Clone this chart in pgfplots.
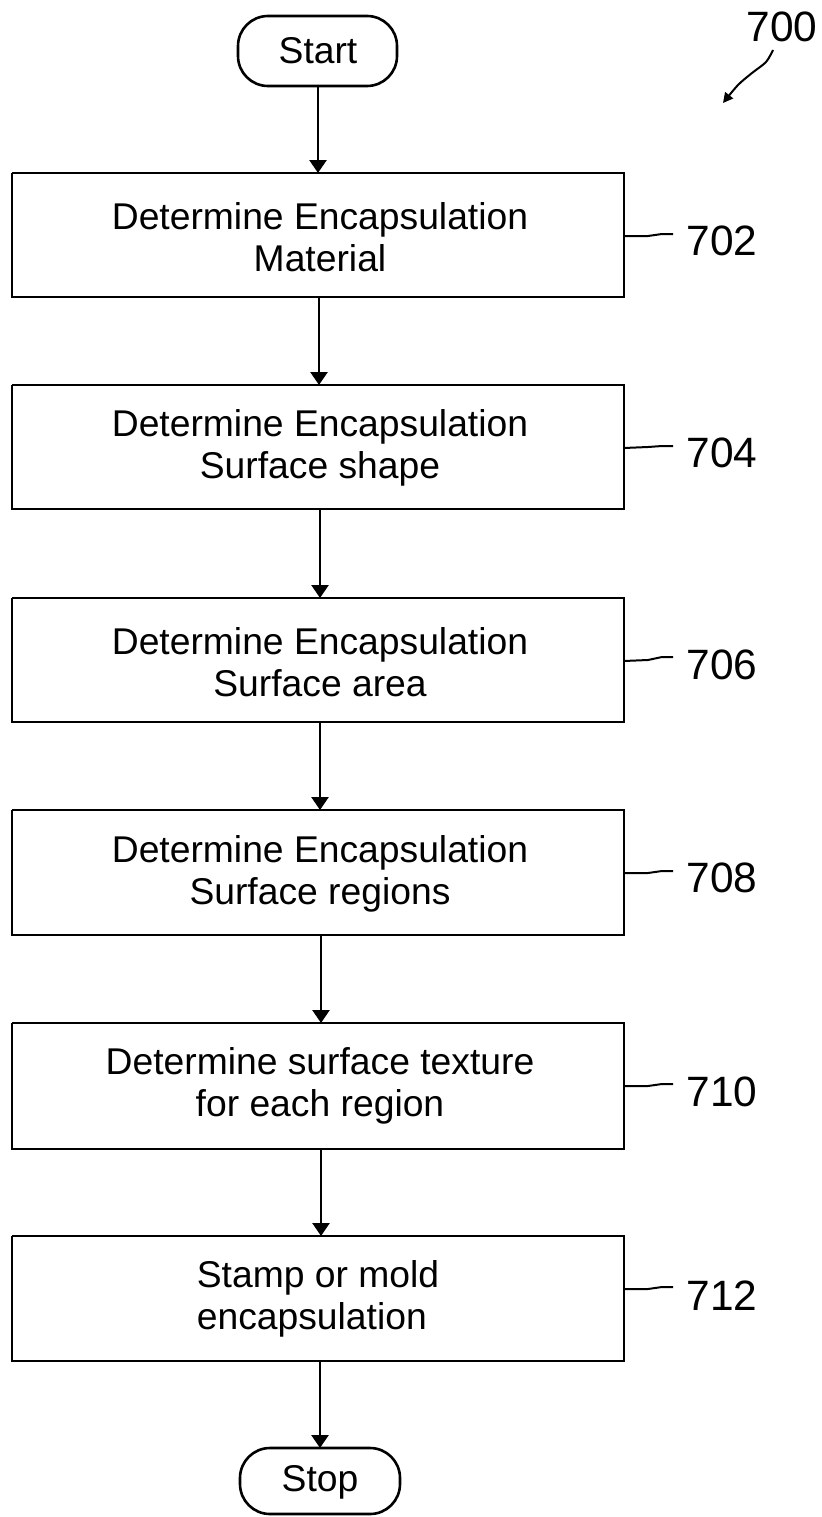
\documentclass[border=0pt]{standalone}
\usepackage{pgfplots}
\pgfplotsset{compat=1.18}
\usetikzlibrary{arrows.meta}
\usepackage{fontspec}
\setmainfont{Liberation Sans}
\begin{document}
\begin{tikzpicture}
\begin{axis}[
  scale only axis, width=411bp, height=758.5bp,
  xmin=0, xmax=822, ymin=0, ymax=1517, y dir=reverse,
  hide axis, clip=false,
  cycle list={{black,solid,mark=none}},
  every axis plot/.append style={black, solid, line width=1.3bp, mark=none},
]
% bounding frame (invisible)
\addplot[draw=none] coordinates {(0,0) (822,1517)};
% Start / Stop terminals
\addplot[rounded corners=15bp] coordinates {(318,16) (397,16) (397,86) (238,86) (238,16) (318,16)};
\addplot[rounded corners=15bp] coordinates {(320,1448) (400,1448) (400,1514) (240,1514) (240,1448) (320,1448)};
% process boxes
\addplot[] coordinates {(12,173) (624,173) (624,297) (12,297) (12,173)};
\addplot[] coordinates {(12,385) (624,385) (624,509) (12,509) (12,385)};
\addplot[] coordinates {(12,598) (624,598) (624,722) (12,722) (12,598)};
\addplot[] coordinates {(12,810) (624,810) (624,935) (12,935) (12,810)};
\addplot[] coordinates {(12,1023) (624,1023) (624,1149) (12,1149) (12,1023)};
\addplot[] coordinates {(12,1236) (624,1236) (624,1361) (12,1361) (12,1236)};
% flow arrows
\addplot[-{Triangle[length=6.5bp,width=8.5bp]}] coordinates {(318,86) (318,173)};
\addplot[-{Triangle[length=6.5bp,width=8.5bp]}] coordinates {(319,297) (319,385)};
\addplot[-{Triangle[length=6.5bp,width=8.5bp]}] coordinates {(320,509) (320,598)};
\addplot[-{Triangle[length=6.5bp,width=8.5bp]}] coordinates {(320,722) (320,810)};
\addplot[-{Triangle[length=6.5bp,width=8.5bp]}] coordinates {(321,935) (321,1023)};
\addplot[-{Triangle[length=6.5bp,width=8.5bp]}] coordinates {(321,1149) (321,1236)};
\addplot[-{Triangle[length=6.5bp,width=8.5bp]}] coordinates {(320,1361) (320,1448)};
% leader lines
\addplot[line width=1bp] coordinates {(624,236) (648,236) (662,234) (673,234)};
\addplot[line width=1bp] coordinates {(624,448) (648,447) (662,446) (673,446)};
\addplot[line width=1bp] coordinates {(624,661) (648,660) (662,657) (673,657)};
\addplot[line width=1bp] coordinates {(624,873) (648,873) (662,871) (673,871)};
\addplot[line width=1bp] coordinates {(624,1086) (648,1086) (662,1084) (673,1084)};
\addplot[line width=1bp] coordinates {(624,1289) (648,1289) (662,1287) (673,1287)};
% 700 arrow
\addplot[smooth, line width=1bp, -{Triangle[length=5bp,width=5bp]}] coordinates {(773,50) (766,62) (752,73) (738,85) (723,103)};
% texts
\begin{scope}[every node/.style={font=\fontsize{18.7}{21}\selectfont, align=center, inner sep=0pt}]
\node at (axis cs:318,51) {Start};
\node at (axis cs:320,1482) {Stop};
\node at (axis cs:320,237) {Determine Encapsulation\\Material};
\node at (axis cs:320,448) {Determine Encapsulation\\Surface shape};
\node at (axis cs:320,662) {Determine Encapsulation\\Surface area};
\node at (axis cs:320,874) {Determine Encapsulation\\Surface regions};
\node at (axis cs:320,1086) {Determine surface texture\\for each region};
\node[align=left] at (axis cs:318,1299) {Stamp or mold\\encapsulation};
\end{scope}
\begin{scope}[every node/.style={font=\fontsize{21.3}{24}\selectfont, inner sep=0pt}]
\node at (axis cs:782,27) {700};
\node at (axis cs:722,241) {702};
\node at (axis cs:722,453) {704};
\node at (axis cs:722,665) {706};
\node at (axis cs:722,878) {708};
\node at (axis cs:722,1092) {710};
\node at (axis cs:722,1296) {712};
\end{scope}
\end{axis}
\end{tikzpicture}
\end{document}
